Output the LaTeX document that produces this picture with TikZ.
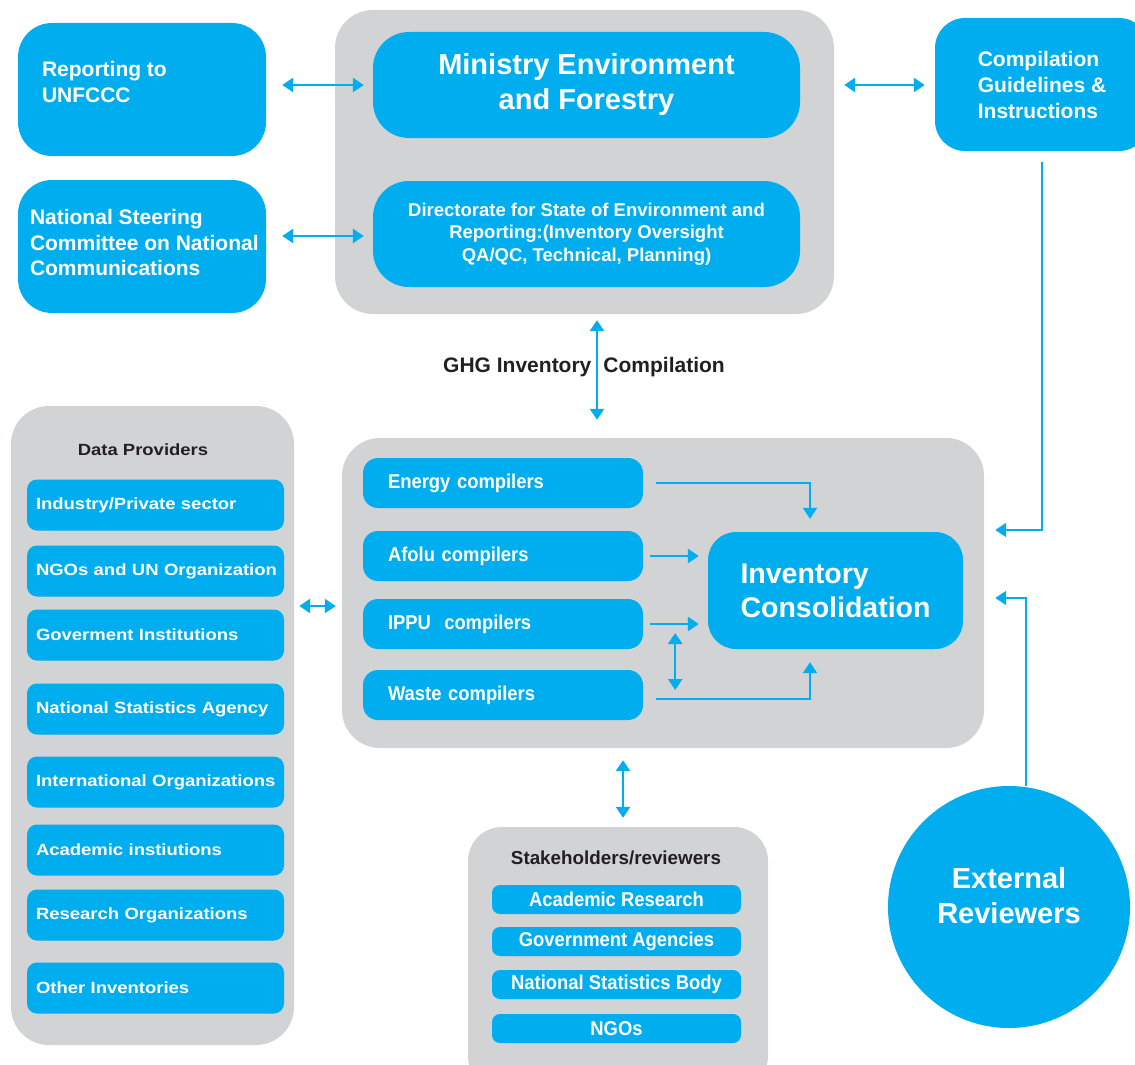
\documentclass[tikz,border=0pt]{standalone}
\usepackage{fontspec}
\setmainfont{Liberation Sans}
\newfontfamily\condfont[FakeStretch=0.92]{Liberation Sans}
\newfontfamily\widefont[FakeStretch=1.14]{Liberation Sans}
\usetikzlibrary{arrows.meta}
\definecolor{ghgblue}{HTML}{00AEEF}
\definecolor{ghggray}{HTML}{D1D3D4}
\definecolor{ghgink}{HTML}{231F20}

\begin{document}
\begin{tikzpicture}[x=1pt,y=-1pt,>={Triangle[length=11pt,width=14pt]},
    panel/.style={fill=ghggray,rounded corners=38pt,inner sep=0pt},
    bluebox/.style={fill=ghgblue,text=white,inner sep=0pt},
    link/.style={ghgblue,line width=2.5pt},
    title/.style={text=ghgink,inner sep=0pt}]
    \useasboundingbox (0,0) rectangle (1135,1065);

    % ministry block
    \node[panel,minimum width=499pt,minimum height=304pt] (moef) at (584.5,162) {};
    \node[bluebox,rounded corners=36pt,minimum width=427pt,minimum height=106pt,align=center,
      font=\bfseries\fontsize{29}{35}\selectfont] (ministry) at (586.5,85) {Ministry Environment\\and Forestry};
    \node[bluebox,rounded corners=36pt,minimum width=427pt,minimum height=106pt,align=center,
      font=\bfseries\fontsize{18.5}{22.5}\selectfont] (directorate) at (586.5,234)
      {Directorate for State of Environment and\\Reporting:(Inventory Oversight\\QA/QC, Technical, Planning)};

    \node[bluebox,rounded corners=34pt,minimum width=248pt,minimum height=133pt] (unfccc) at (142,89.5) {};
    \node[text=white,anchor=west,align=left,inner sep=0pt,font=\bfseries\fontsize{21}{26}\selectfont] (unfccc-t)
      at ([xshift=24pt,yshift=8pt]unfccc.west) {Reporting to\\UNFCCC};
    \node[bluebox,rounded corners=34pt,minimum width=248pt,minimum height=133pt] (nsc) at (142,246.5) {};
    \node[text=white,anchor=west,align=left,inner sep=0pt,font=\bfseries\fontsize{21}{25.5}\selectfont] (nsc-t)
      at ([xshift=12pt,yshift=4pt]nsc.west) {National Steering\\Committee on National\\Communications};
    \node[bluebox,rounded corners=30pt,minimum width=214pt,minimum height=133pt,align=left,
      font=\bfseries\fontsize{21}{26}\selectfont] (guide) at (1042,84.5) {Compilation\\Guidelines \&\\Instructions};

    \draw[link,<->,shorten <=16pt,shorten >=9pt] (unfccc.east |- ministry.west) -- (ministry.west);
    \draw[link,<->,shorten <=16pt,shorten >=9pt] ([yshift=-2pt]nsc.east |- directorate.west) -- ([yshift=-2pt]directorate.west);
    \draw[link,<->,shorten <=10pt,shorten >=10pt] (moef.east |- ministry.east) -- (guide.west |- ministry.east);

    % compilation block
    \node[panel,minimum width=642pt,minimum height=310pt] (compile) at (663,593) {};
    \foreach \n/\y/\t in {energy/483/Energy compilers,afolu/556/Afolu compilers,
        ippu/624/IPPU\ \ compilers,waste/695/Waste compilers}
      \node[bluebox,rounded corners=15pt,minimum width=280pt,minimum height=50pt,text width=230pt,
        inner xsep=25pt,align=left,font=\condfont\bfseries\fontsize{20}{24}\selectfont] (\n) at (503,\y) {\t};
    \node[bluebox,rounded corners=28pt,minimum width=255pt,minimum height=117pt,align=left,
      font=\bfseries\fontsize{28.5}{34}\selectfont] (inv) at (835.5,590.5) {Inventory\\Consolidation};

    \draw[link,line width=2pt,->,shorten <=13pt] (energy.east) -| ([xshift=-25.5pt,yshift=13pt]inv.north);
    \draw[link,->,shorten <=7pt,shorten >=9pt] (afolu.east) -- (inv.west |- afolu.east);
    \draw[link,->,shorten <=7pt,shorten >=9pt] (ippu.east) -- (inv.west |- ippu.east);
    \draw[link,<->] ([xshift=32pt,yshift=-9pt]ippu.east) -- ([xshift=32pt,yshift=5pt]waste.east);
    \draw[link,line width=2pt,->,shorten <=13pt] ([yshift=-4pt]waste.east) -| ([xshift=-25.5pt,yshift=-13pt]inv.south);

    \draw[link,<->,shorten <=6pt,shorten >=18pt] ([xshift=12.5pt]moef.south) -- ([xshift=12.5pt]moef.south |- compile.north);
    \node[title,font=\bfseries\fontsize{21}{25}\selectfont] (ghg) at (584,367) {GHG Inventory\hspace{12pt}Compilation};

    \draw[link,line width=2pt,->] ([yshift=-11pt]guide.south) |- ([xshift=11pt,yshift=63pt]compile.east);

    % external reviewers
    \node[bluebox,circle,minimum size=242pt] (ext) at (1009,907) {};
    \node[text=white,align=center,inner sep=0pt,font=\bfseries\fontsize{29}{35}\selectfont] (ext-t)
      at ([yshift=11pt]ext.center) {External\\Reviewers};
    \draw[link,line width=2pt,->] ([xshift=17pt]ext.north) |- ([xshift=11pt,yshift=-5pt]compile.east);

    % data providers
    \node[panel,minimum width=283pt,minimum height=639pt] (providers) at (152.5,725.5) {};
    \node[title,font=\widefont\bfseries\fontsize{16.2}{19}\selectfont] (providers-t) at (143,450) {Data Providers};
    \foreach \y/\t [count=\i] in {505/{Industry/Private sector},571/NGOs and UN Organization,
        635/Goverment Institutions,709/National Statistics Agency,782/International Organizations,
        850/Academic instiutions,915/Research Organizations,988/Other Inventories}
      \node[bluebox,rounded corners=10pt,minimum width=257pt,minimum height=51pt,text width=248pt,
        inner xsep=4.5pt,align=left,font=\widefont\bfseries\fontsize{16.2}{19}\selectfont] (dp-\i) at (155.5,\y)
        {\hspace{4.5pt}\t};
    \draw[link,<->,shorten <=5pt,shorten >=6pt] ([yshift=-13pt]providers.east |- compile.west) -- ([yshift=-13pt]compile.west);

    % stakeholders
    \node[panel,rounded corners=34pt,minimum width=300pt,minimum height=263pt] (stake) at (618,958.5) {};
    \node[title,font=\bfseries\fontsize{18.8}{22}\selectfont] (stake-t) at (616,858) {Stakeholders/reviewers};
    \foreach \y/\t [count=\i] in {899.5/Academic Research,941.5/Government Agencies,
        984.5/National Statistics Body,1028.5/NGOs}
      \node[bluebox,rounded corners=8pt,minimum width=249pt,minimum height=29pt,
        font=\condfont\bfseries\fontsize{20}{24}\selectfont] (sh-\i) at (616.5,\y) {\t};
    \draw[link,<->,shorten <=9pt,shorten >=12pt] ([xshift=5pt]stake.north) -- ([xshift=5pt]stake.north |- compile.south);

  \end{tikzpicture}
\end{document}
